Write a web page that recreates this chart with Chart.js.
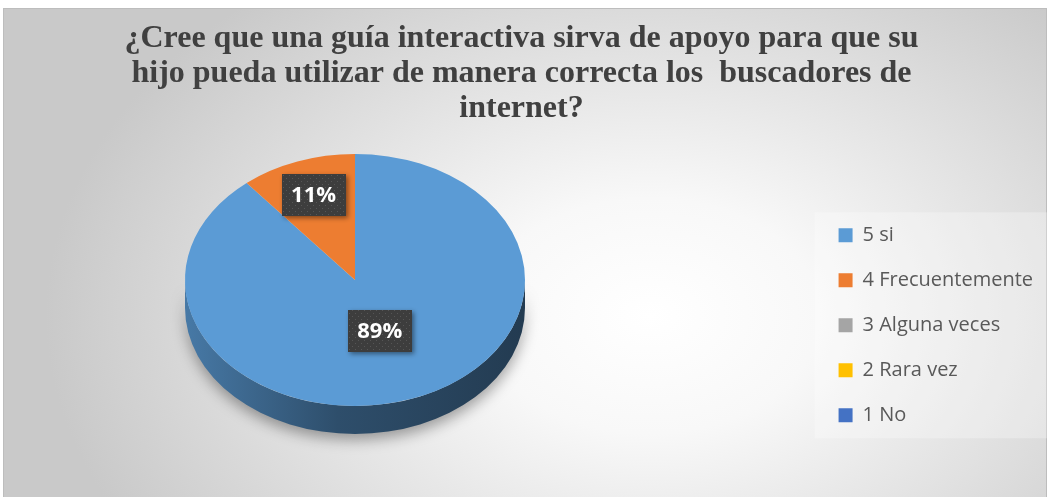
<!DOCTYPE html>
<html>
<head>
<meta charset="utf-8">
<script src="https://cdn.jsdelivr.net/npm/chart.js@4.4.1/dist/chart.umd.min.js"></script>
<style>
  html, body { margin: 0; padding: 0; background: #fff; }
  .wrap { position: relative; width: 1051px; height: 497px; overflow: hidden; }
  .frame {
    position: absolute; left: 3px; top: 8px; width: 1042px; height: 495px;
    border: 1px solid #bdbdbd;
    background: radial-gradient(ellipse 58% 85% at 62% 62%, #ffffff 0%, #f8f8f8 28%, #e0e0e0 65%, #c9c9c9 100%);
  }
  canvas { position: absolute; left: 0; top: 0; }
</style>
</head>
<body>
<div class="wrap">
  <div class="frame"></div>
  <canvas id="chart" width="1051" height="497"></canvas>
</div>
<script>
const titleLines = [
  "¿Cree que una guía interactiva sirva de apoyo para que su",
  "hijo pueda utilizar de manera correcta los  buscadores de",
  "internet?"
];
const categories = ["5 si", "4 Frecuentemente", "3 Alguna veces", "2 Rara vez", "1 No"];
const shares = [89, 11, 0, 0, 0];
const colors = ["#5b9bd5", "#ed7d31", "#a5a5a5", "#ffc000", "#4472c4"];

// where the tilted pie sits and how flat it looks
const PIE = { cx: 355, cy: 280, tilt: 0.741, depth: 28 };

function shade(hex, f) {
  const n = parseInt(hex.slice(1), 16);
  const r = Math.round(((n >> 16) & 255) * f);
  const g = Math.round(((n >> 8) & 255) * f);
  const b = Math.round((n & 255) * f);
  return `rgb(${r},${g},${b})`;
}

function dotPattern(ctx) {
  const c = document.createElement("canvas");
  c.width = 6;
  c.height = 6;
  const p = c.getContext("2d");
  p.fillStyle = "#3d3d3d";
  p.fillRect(0, 0, 6, 6);
  p.fillStyle = "#565656";
  p.fillRect(1, 1, 1, 1);
  p.fillRect(4, 4, 1, 1);
  return ctx.createPattern(c, "repeat");
}

const legendPanel = {
  id: "legendPanel",
  beforeDraw(chart) {
    const lg = chart.legend;
    const boxes = lg.legendHitBoxes;
    if (!boxes || !boxes.length) return;
    const last = boxes[boxes.length - 1];
    const top = boxes[0].top - 13;
    const bottom = last.top + last.height + 13;
    const ctx = chart.ctx;
    ctx.save();
    ctx.fillStyle = "rgba(255,255,255,0.28)";
    ctx.fillRect(lg.left + 1, top, 1047 - lg.left - 1, bottom - top);
    ctx.restore();
  }
};

const pie3d = {
  id: "pie3d",
  beforeDatasetsDraw(chart) {
    const ctx = chart.ctx;
    const arcs = chart.getDatasetMeta(0).data;
    const R = arcs[0].outerRadius;
    const ry = R * PIE.tilt;

    // the visible side wall (front half only)
    ctx.save();
    ctx.shadowColor = "rgba(0,0,0,0.35)";
    ctx.shadowBlur = 14;
    ctx.shadowOffsetY = 6;
    arcs.forEach((arc, i) => {
      const s = arc.startAngle;
      const e = arc.endAngle;
      if (e - s <= 0) return;
      const grad = ctx.createLinearGradient(PIE.cx - R, 0, PIE.cx + R, 0);
      grad.addColorStop(0, shade(colors[i], 0.78));
      grad.addColorStop(0.45, shade(colors[i], 0.5));
      grad.addColorStop(1, shade(colors[i], 0.38));
      [0, 2 * Math.PI].forEach((shift) => {
        const a1 = Math.max(s, shift);
        const a2 = Math.min(e, shift + Math.PI);
        if (a2 <= a1) return;
        ctx.beginPath();
        ctx.ellipse(PIE.cx, PIE.cy, R, ry, 0, a1, a2);
        ctx.ellipse(PIE.cx, PIE.cy + PIE.depth, R, ry, 0, a2, a1, true);
        ctx.closePath();
        ctx.fillStyle = grad;
        ctx.fill();
      });
    });
    ctx.restore();

    // squash the top face into an ellipse
    ctx.save();
    ctx.translate(PIE.cx, PIE.cy);
    ctx.scale(1, PIE.tilt);
    ctx.translate(-arcs[0].x, -arcs[0].y);
  },
  afterDatasetsDraw(chart) {
    const ctx = chart.ctx;
    ctx.restore();

    const arcs = chart.getDatasetMeta(0).data;
    const values = chart.data.datasets[0].data;
    const total = values.reduce((a, b) => a + b, 0);
    const pattern = dotPattern(ctx);
    arcs.forEach((arc, i) => {
      const v = values[i];
      if (!v) return;
      const mid = (arc.startAngle + arc.endAngle) / 2;
      const r = arc.outerRadius * (v / total > 0.5 ? 0.43 : 0.72);
      const x = PIE.cx + Math.cos(mid) * r;
      const y = PIE.cy + Math.sin(mid) * r * PIE.tilt;
      const w = 64, h = 42;
      ctx.save();
      ctx.shadowColor = "rgba(0,0,0,0.45)";
      ctx.shadowBlur = 5;
      ctx.shadowOffsetX = 2;
      ctx.shadowOffsetY = 2;
      ctx.fillStyle = pattern;
      ctx.fillRect(Math.round(x - w / 2), Math.round(y - h / 2), w, h);
      ctx.restore();
      ctx.save();
      ctx.fillStyle = "#ffffff";
      ctx.font = "bold 22px 'Open Sans', sans-serif";
      ctx.textAlign = "center";
      ctx.textBaseline = "middle";
      ctx.fillText(Math.round((v / total) * 100) + "%", x, y + 1);
      ctx.restore();
    });
  }
};

new Chart(document.getElementById("chart"), {
  type: "pie",
  data: {
    labels: categories,
    datasets: [
      {
        data: shares,
        backgroundColor: colors,
        borderWidth: 0,
        radius: 170,
        clip: false
      }
    ]
  },
  options: {
    responsive: false,
    animation: false,
    devicePixelRatio: 1,
    layout: {
      padding: { top: 0, right: 8, bottom: 0, left: 0 }
    },
    plugins: {
      title: {
        display: true,
        text: titleLines,
        color: "#404040",
        font: {
          family: "'Liberation Serif', 'Times New Roman', serif",
          size: 32,
          weight: "bold",
          lineHeight: 1.1
        },
        padding: { top: 21, bottom: 27 }
      },
      legend: {
        position: "right",
        fullSize: false,
        align: "center",
        labels: {
          color: "#595959",
          boxWidth: 14,
          boxHeight: 14,
          padding: 25,
          font: { family: "'Open Sans', sans-serif", size: 20 }
        }
      },
      tooltip: { enabled: false }
    }
  },
  plugins: [legendPanel, pie3d]
});
</script>
</body>
</html>
